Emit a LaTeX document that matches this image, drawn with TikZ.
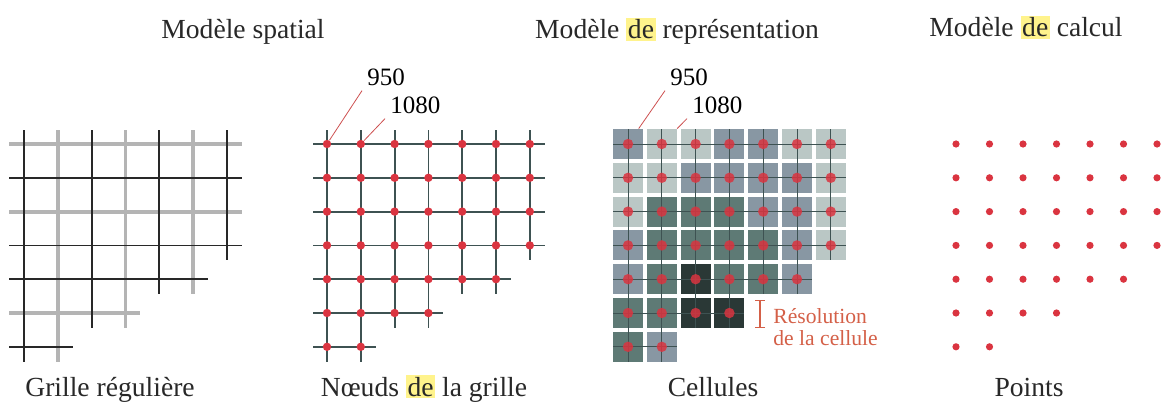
\documentclass[tikz,border=0pt]{standalone}
\usepackage{fontspec}
\setmainfont{Liberation Serif}
\usepackage{xcolor}
\usetikzlibrary{arrows.meta}
\definecolor{ink}{RGB}{40,40,40}
\definecolor{gridgray}{RGB}{180,180,180}
\definecolor{gridblack}{RGB}{40,40,40}
\definecolor{slate}{RGB}{62,82,82}
\definecolor{nodered}{RGB}{218,52,64}
\definecolor{leader}{RGB}{205,80,80}
\definecolor{rescolor}{RGB}{212,96,72}
\definecolor{hlyellow}{RGB}{255,243,140}
\definecolor{shade1}{RGB}{186,199,197}
\definecolor{shade2}{RGB}{136,151,163}
\definecolor{shade3}{RGB}{94,122,117}
\definecolor{shade4}{RGB}{42,56,54}
\tikzset{
  title/.style     ={font=\fontsize{13.8}{16}\selectfont, text=ink, anchor=base, inner sep=0pt},
  num/.style       ={font=\fontsize{12.5}{14}\selectfont, anchor=base west, inner sep=2.5pt},
  leaderline/.style={draw=leader, line width=0.4pt},
  gline/.style     ={draw=gridgray, line width=1.9pt},
  kline/.style     ={draw=gridblack, line width=0.9pt},
  nodeline/.style  ={draw=slate, line width=0.9pt},
  cellline/.style  ={draw=slate, line width=0.5pt},
  cell/.style      ={rectangle, minimum size=15pt, inner sep=0pt},
  nodedot/.style   ={circle, fill=nodered, minimum size=4.2pt, inner sep=0pt},
  celldot/.style   ={circle, fill=nodered, fill opacity=0.85, minimum size=5.2pt, inner sep=0pt},
  pointdot/.style  ={circle, fill=nodered, minimum size=3.6pt, inner sep=0pt},
  resbar/.style    ={{Bar[width=5pt]}-{Bar[width=5pt]}, draw=rescolor, line width=0.6pt},
  restext/.style   ={font=\fontsize{10.8}{11}\selectfont, text=rescolor, anchor=north west,
                     align=left, inner sep=0pt},
}
\newcommand{\hlde}{{\setlength{\fboxsep}{0.8pt}\colorbox{hlyellow}{de}}}
\def\gap{33.8}

\begin{document}
\begin{tikzpicture}[x=0.5pt, y=-0.5pt]
\useasboundingbox (0,0) rectangle (1165,401);

% titles and captions
\node[title] (t-spatial) at (243,39) {Modèle spatial};
\node[title] (t-repr)    at (677,39) {Modèle \hlde{} représentation};
\node[title] (t-calc)    at (1026,37) {Modèle \hlde{} calcul};
\node[title] (c-grid)    at (110,396) {Grille régulière};
\node[title] (c-nodes)   at (424,396) {Nœuds \hlde{} la grille};
\node[title] (c-cells)   at (713,396) {Cellules};
\node[title] (c-points)  at (1029,396) {Points};

% regular grid
\foreach \r/\n in {1/7,3/7,6/4}
  \draw[gline] (9,{144+\gap*(\r-1)}) -- ({24+\gap*(\n-1)+15},{144+\gap*(\r-1)});
\foreach \c/\m in {2/7,4/6,6/5}
  \draw[gline] ({24+\gap*(\c-1)},130) -- ({24+\gap*(\c-1)},{144+\gap*(\m-1)+15});
\foreach \r/\n in {2/7,4/7,5/6,7/2}
  \draw[kline] (9,{144+\gap*(\r-1)}) -- ({24+\gap*(\n-1)+15},{144+\gap*(\r-1)});
\foreach \c/\m in {1/7,3/6,5/5,7/4}
  \draw[kline] ({24+\gap*(\c-1)},130) -- ({24+\gap*(\c-1)},{144+\gap*(\m-1)+15});

% grid nodes
\foreach \n [count=\r] in {7,7,7,7,6,4,2}
  \draw[nodeline] (313,{144+\gap*(\r-1)}) -- ({327+\gap*(\n-1)+15},{144+\gap*(\r-1)});
\foreach \m [count=\c] in {7,7,6,6,5,5,4}
  \draw[nodeline] ({327+\gap*(\c-1)},130) -- ({327+\gap*(\c-1)},{144+\gap*(\m-1)+15});
\foreach \n [count=\r] in {7,7,7,7,6,4,2}
  \foreach \c in {1,...,\n}
    \node[nodedot] (nd-\r-\c) at ({327+\gap*(\c-1)},{144+\gap*(\r-1)}) {};
\node[num] (lab-950-n)  at (362,85)  {950};
\node[num] (lab-1080-n) at (385,113) {1080};
\draw[leaderline] (lab-950-n.south west) -- (nd-1-1);
\draw[leaderline] (lab-1080-n.south west) -- (nd-1-2);

% cells
\foreach \shades [count=\r] in {{2,1,1,2,2,1,1},{1,1,2,2,2,2,1},{1,3,3,3,2,2,1},
    {2,3,3,3,3,2,1},{2,3,4,3,3,2},{3,3,4,4},{3,2}}
  \foreach \s [count=\c] in \shades
    \node[cell, fill=shade\s] (cell-\r-\c) at ({628+\gap*(\c-1)},{144+\gap*(\r-1)}) {};
\foreach \n [count=\r] in {7,7,7,7,6,4,2}
  \draw[cellline] (613,{144+\gap*(\r-1)}) -- ({628+\gap*(\n-1)+15},{144+\gap*(\r-1)});
\foreach \m [count=\c] in {7,7,6,6,5,5,4}
  \draw[cellline] ({628+\gap*(\c-1)},129) -- ({628+\gap*(\c-1)},{144+\gap*(\m-1)+15});
\foreach \n [count=\r] in {7,7,7,7,6,4,2}
  \foreach \c in {1,...,\n}
    \node[celldot] (cd-\r-\c) at ({628+\gap*(\c-1)},{144+\gap*(\r-1)}) {};
\node[num] (lab-950-c)  at (665,85)  {950};
\node[num] (lab-1080-c) at (687,113) {1080};
\draw[leaderline] (lab-950-c.south west) -- (cell-1-1);
\draw[leaderline] (lab-1080-c.south west) -- (cell-1-2);

\coordinate (res-top) at (760,300);
\coordinate (res-bot) at (760,328);
\draw[resbar] (res-top) -- (res-bot);
\node[restext] (res-label) at (773,308) {Résolution\\de la cellule};

% points
\foreach \n [count=\r] in {7,7,7,7,6,4,2}
  \foreach \c in {1,...,\n}
    \node[pointdot] (pt-\r-\c) at ({956+33.5*(\c-1)},{144+\gap*(\r-1)}) {};
\end{tikzpicture}
\end{document}
